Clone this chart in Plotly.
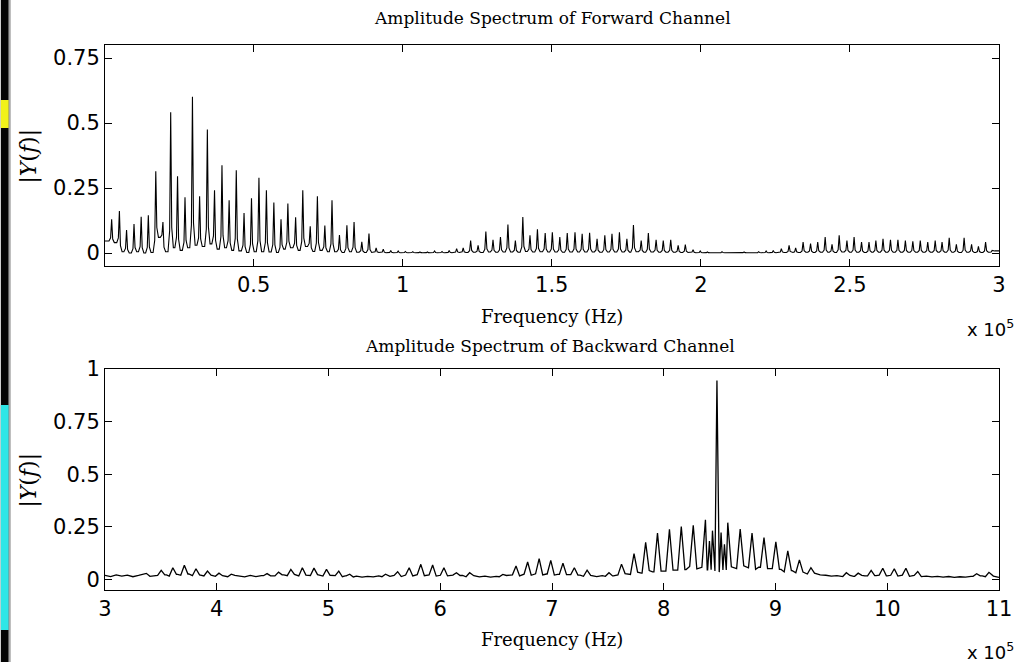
import plotly.graph_objects as go

# ---------------- data (frequency in units of 1e5 Hz) ----------------
fwd_start = 0.046
fwd_freq = [
    0.024, 0.050, 0.074, 0.099, 0.123, 0.147, 0.172, 0.196, 0.222, 0.245,
    0.270, 0.295, 0.319, 0.345, 0.369, 0.394, 0.418, 0.442, 0.468, 0.493,
    0.518, 0.543, 0.568, 0.592, 0.615, 0.641, 0.665, 0.690, 0.714, 0.739,
    0.763, 0.788, 0.813, 0.837, 0.863, 0.887, 0.911, 0.935, 0.960, 0.985,
    1.009, 1.034, 1.058, 1.083, 1.107, 1.132, 1.156, 1.181, 1.203, 1.228,
    1.253, 1.279, 1.303, 1.328, 1.353, 1.378, 1.403, 1.427, 1.452, 1.478,
    1.502, 1.527, 1.552, 1.578, 1.602, 1.627, 1.652, 1.678, 1.702, 1.727,
    1.752, 1.774, 1.800, 1.824, 1.850, 1.874, 1.899, 1.924, 1.948, 1.974,
    1.998, 2.022, 2.047, 2.071, 2.096, 2.120, 2.145, 2.170, 2.194, 2.219,
    2.243, 2.270, 2.296, 2.318, 2.343, 2.368, 2.392, 2.417, 2.440, 2.464,
    2.490, 2.514, 2.539, 2.564, 2.587, 2.611, 2.636, 2.661, 2.686, 2.711,
    2.736, 2.761, 2.786, 2.809, 2.833, 2.857, 2.883, 2.908, 2.931, 2.955,
    2.977,
]
fwd_peak = [
    0.130, 0.161, 0.088, 0.111, 0.139, 0.145, 0.314, 0.119, 0.541, 0.295,
    0.214, 0.601, 0.218, 0.475, 0.241, 0.337, 0.203, 0.318, 0.154, 0.211,
    0.289, 0.241, 0.194, 0.130, 0.190, 0.137, 0.241, 0.103, 0.218, 0.106,
    0.203, 0.069, 0.107, 0.119, 0.043, 0.075, 0.020, 0.015, 0.010, 0.008,
    0.006, 0.005, 0.004, 0.004, 0.008, 0.006, 0.010, 0.017, 0.020, 0.048,
    0.029, 0.083, 0.051, 0.061, 0.110, 0.048, 0.138, 0.068, 0.091, 0.077,
    0.080, 0.061, 0.077, 0.080, 0.074, 0.078, 0.055, 0.068, 0.074, 0.080,
    0.055, 0.108, 0.048, 0.077, 0.051, 0.048, 0.051, 0.029, 0.032, 0.013,
    0.008, 0.004, 0.003, 0.005, 0.003, 0.003, 0.004, 0.003, 0.005, 0.008,
    0.010, 0.017, 0.029, 0.020, 0.042, 0.036, 0.042, 0.061, 0.033, 0.068,
    0.048, 0.061, 0.042, 0.042, 0.048, 0.055, 0.051, 0.051, 0.048, 0.045,
    0.048, 0.042, 0.048, 0.042, 0.058, 0.033, 0.058, 0.033, 0.026, 0.042,
    0.010,
]
fwd_valley = [
    0.040, 0.005, 0.000, 0.005, 0.000, 0.002, 0.060, 0.005, 0.020, 0.010,
    0.020, 0.030, 0.025, 0.035, 0.015, 0.020, 0.010, 0.008, 0.002, 0.005,
    0.005, 0.004, 0.002, 0.015, 0.020, 0.010, 0.025, 0.006, 0.010, 0.005,
    0.005, 0.002, 0.005, 0.003, 0.002, 0.002, 0.002, 0.001, 0.001, 0.001,
    0.001, 0.001, 0.001, 0.001, 0.001, 0.001, 0.001, 0.002, 0.002, 0.003,
    0.002, 0.004, 0.003, 0.004, 0.004, 0.003, 0.006, 0.004, 0.005, 0.004,
    0.004, 0.003, 0.004, 0.004, 0.004, 0.004, 0.003, 0.004, 0.004, 0.004,
    0.003, 0.005, 0.003, 0.004, 0.003, 0.003, 0.003, 0.002, 0.002, 0.001,
    0.001, 0.001, 0.001, 0.001, 0.001, 0.001, 0.001, 0.001, 0.001, 0.001,
    0.001, 0.002, 0.002, 0.002, 0.003, 0.002, 0.003, 0.003, 0.002, 0.004,
    0.003, 0.003, 0.002, 0.003, 0.003, 0.003, 0.003, 0.003, 0.003, 0.003,
    0.003, 0.003, 0.003, 0.003, 0.003, 0.002, 0.003, 0.002, 0.002, 0.003,
    0.008,
]

bwd_peak_freq = [
    3.370, 3.503, 3.607, 3.710, 3.814, 3.917, 4.020, 4.130, 4.450, 4.553,
    4.663, 4.766, 4.870, 4.982, 5.092, 5.190, 5.510, 5.619, 5.722, 5.826,
    5.932, 6.033, 6.145, 6.263, 6.560, 6.678, 6.782, 6.885, 6.989, 7.098,
    7.200, 7.314, 7.510, 7.622, 7.734, 7.838, 7.944, 8.051, 8.157, 8.264,
    8.373, 8.409, 8.436, 8.476, 8.513, 8.543, 8.573, 8.684, 8.790, 8.897,
    9.003, 9.110, 9.214, 9.317, 9.634, 9.740, 9.856, 9.960, 10.063, 10.167,
    10.273, 10.800, 10.910,
]
bwd_peak_val = [
    0.029, 0.043, 0.056, 0.068, 0.051, 0.040, 0.030, 0.025, 0.028, 0.035,
    0.048, 0.056, 0.054, 0.048, 0.040, 0.025, 0.025, 0.037, 0.056, 0.072,
    0.069, 0.056, 0.032, 0.032, 0.024, 0.064, 0.083, 0.099, 0.091, 0.077,
    0.056, 0.044, 0.032, 0.073, 0.123, 0.176, 0.220, 0.238, 0.252, 0.257,
    0.284, 0.183, 0.232, 0.945, 0.223, 0.167, 0.270, 0.239, 0.220, 0.199,
    0.179, 0.136, 0.093, 0.056, 0.032, 0.030, 0.043, 0.053, 0.051, 0.053,
    0.038, 0.027, 0.034,
]
bwd_floor_start = 3.00
bwd_floor_step = 0.05
bwd_floor = [
    0.020, 0.014, 0.022, 0.016, 0.021, 0.013, 0.019, 0.024, 0.015, 0.020,
    0.018, 0.022, 0.016, 0.024, 0.020, 0.026, 0.018, 0.022, 0.017, 0.021, 0.015,
    0.018, 0.013, 0.020, 0.016, 0.012, 0.019, 0.014, 0.018, 0.013, 0.017,
    0.016, 0.022, 0.018, 0.024, 0.017, 0.021, 0.019, 0.023, 0.016, 0.020,
    0.018, 0.013, 0.017, 0.012, 0.016, 0.011, 0.015, 0.012, 0.017, 0.013,
    0.015, 0.019, 0.014, 0.021, 0.017, 0.023, 0.018, 0.022, 0.016, 0.020,
    0.017, 0.021, 0.015, 0.019, 0.013, 0.018, 0.012, 0.016, 0.011, 0.015,
    0.013, 0.019, 0.022, 0.017, 0.025, 0.020, 0.027, 0.022, 0.026, 0.021,
    0.024, 0.019, 0.023, 0.017, 0.021, 0.015, 0.019, 0.014, 0.018, 0.015,
    0.017, 0.022, 0.028, 0.024, 0.035, 0.030, 0.042, 0.036, 0.048, 0.040,
    0.050, 0.044, 0.058, 0.047, 0.062, 0.050, 0.058, 0.046, 0.040, 0.035,
    0.045, 0.060, 0.052, 0.065, 0.055, 0.048, 0.058, 0.046, 0.052, 0.040,
    0.048, 0.036, 0.042, 0.032, 0.035, 0.026, 0.030, 0.022, 0.020, 0.016,
    0.018, 0.014, 0.019, 0.015, 0.020, 0.017, 0.022, 0.018, 0.021, 0.017,
    0.020, 0.016, 0.021, 0.015, 0.019, 0.014, 0.016, 0.012, 0.015, 0.011,
    0.014, 0.010, 0.013, 0.011, 0.015, 0.012, 0.017, 0.013, 0.016, 0.010,
]

fwd_xticks = [0.5, 1, 1.5, 2, 2.5, 3]
fwd_xtick_text = ["0.5", "1", "1.5", "2", "2.5", "3"]
fwd_yticks = [0, 0.25, 0.5, 0.75]
fwd_ytick_text = ["0", "0.25", "0.5", "0.75"]
bwd_xticks = [3, 4, 5, 6, 7, 8, 9, 10, 11]
bwd_xtick_text = ["3", "4", "5", "6", "7", "8", "9", "10", "11"]
bwd_yticks = [0, 0.25, 0.5, 0.75, 1]
bwd_ytick_text = ["0", "0.25", "0.5", "0.75", "1"]

# ---------------- build line vertices ----------------
SPIKE_W = 0.009     # half base width of a forward spike (1e5 Hz)
SPIKE_S = 0.0035    # half width where the spike skirt begins
SKIRT_K = 0.15      # relative height of the skirt
BUMP_W = 0.032      # half base width of a backward bump (1e5 Hz)

fx, fy = [0.0], [fwd_start]
prev = fwd_start
for f, h, v in zip(fwd_freq, fwd_peak, fwd_valley):
    fx += [f - SPIKE_W, f - SPIKE_S, f, f + SPIKE_S, f + SPIKE_W]
    fy += [prev, prev + SKIRT_K * (h - prev), h, v + SKIRT_K * (h - v), v]
    prev = v
fx.append(3.0)
fy.append(prev)

floor_f = [bwd_floor_start + i * bwd_floor_step for i in range(len(bwd_floor))]


def nearest_floor(x):
    i = int(round((x - bwd_floor_start) / bwd_floor_step))
    i = max(0, min(len(bwd_floor) - 1, i))
    return bwd_floor[i]


pts = []
spans = []
n = len(bwd_peak_freq)
for i, (f, h) in enumerate(zip(bwd_peak_freq, bwd_peak_val)):
    hl = BUMP_W if i == 0 else min(BUMP_W, 0.45 * (f - bwd_peak_freq[i - 1]))
    hr = BUMP_W if i == n - 1 else min(BUMP_W, 0.45 * (bwd_peak_freq[i + 1] - f))
    pts += [(f - hl, nearest_floor(f - hl)), (f, h), (f + hr, nearest_floor(f + hr))]
    spans.append((f - hl, f + hr))
for f, v in zip(floor_f, bwd_floor):
    if not any(a - 0.005 <= f <= b + 0.005 for a, b in spans):
        pts.append((f, v))
pts.sort()
bx = [p[0] for p in pts]
by = [p[1] for p in pts]

# ---------------- figure ----------------
W, H = 1024, 662
ML, MR, MT, MB = 105, 18, 45, 72
PW = W - ML - MR
PH = H - MT - MB


def px(x):
    return (x - ML) / PW


def py(y):
    return (H - MB - y) / PH


fig = go.Figure()
fig.add_trace(go.Scatter(x=fx, y=fy, mode="lines", xaxis="x", yaxis="y",
                         line=dict(color="black", width=1.1), hoverinfo="skip"))
fig.add_trace(go.Scatter(x=bx, y=by, mode="lines", xaxis="x2", yaxis="y2",
                         line=dict(color="black", width=1.3), hoverinfo="skip"))

tickfont = dict(family="DejaVu Sans", size=21, color="black")
axis_common = dict(showgrid=False, zeroline=False, showline=True, linecolor="black",
                   linewidth=1, mirror="allticks", ticks="inside", ticklen=7,
                   tickcolor="black", tickfont=tickfont, tickmode="array")

top_dom = [py(266), 1.0]
bot_dom = [0.0, py(369)]

fig.update_layout(
    width=W, height=H,
    margin=dict(l=ML, r=MR, t=MT, b=MB),
    paper_bgcolor="white", plot_bgcolor="white",
    showlegend=False,
    xaxis=dict(axis_common, domain=[0, 1], range=[0.0017, 3.0], anchor="y",
               tickvals=fwd_xticks, ticktext=fwd_xtick_text),
    yaxis=dict(axis_common, domain=top_dom, range=[-0.05, 0.8], anchor="x",
               tickvals=fwd_yticks, ticktext=fwd_ytick_text),
    xaxis2=dict(axis_common, domain=[0, 1], range=[3, 11], anchor="y2",
                tickvals=bwd_xticks, ticktext=bwd_xtick_text),
    yaxis2=dict(axis_common, domain=bot_dom, range=[-0.05, 1.0], anchor="x2",
                tickvals=bwd_yticks, ticktext=bwd_ytick_text),
)

serif = "DejaVu Serif"
ann = [
    dict(text="Amplitude Spectrum of Forward Channel", x=px(556), y=py(18), size=17),
    dict(text="Amplitude Spectrum of Backward Channel", x=px(553), y=py(346), size=17),
    dict(text="Frequency (Hz)", x=px(555), y=py(316), size=18),
    dict(text="Frequency (Hz)", x=px(555), y=py(640), size=18),
]
for a in ann:
    fig.add_annotation(text=a["text"], x=a["x"], y=a["y"], xref="paper", yref="paper",
                       xanchor="center", yanchor="middle", showarrow=False,
                       font=dict(family=serif, size=a["size"], color="black"))

for yy in (328, 651):
    fig.add_annotation(text="x 10<sup>5</sup>", x=px(1023), y=py(yy), xref="paper",
                       yref="paper", xanchor="right", yanchor="middle", showarrow=False,
                       font=dict(family="DejaVu Sans", size=18, color="black"))

for yy in (156, 480):
    fig.add_annotation(text="|<i>Y</i>(<i>f</i>)|", x=px(28), y=py(yy), xref="paper",
                       yref="paper", xanchor="center", yanchor="middle", showarrow=False,
                       textangle=-90, font=dict(family=serif, size=22, color="black"))

# left-edge screen strip
strips = [
    (0, 8, 0, 662, "#050505"),
    (0, 8, 100, 128, "#f2f21a"),
    (0, 8, 405, 630, "#2ee6e6"),
    (8, 10, 0, 662, "#a8a8a8"),
]
for x0, x1, y0, y1, c in strips:
    fig.add_shape(type="rect", xref="paper", yref="paper", x0=px(x0), x1=px(x1),
                  y0=py(y1), y1=py(y0), fillcolor=c, line=dict(width=0), layer="above")

fig.write_html(
    "out.html",
    config={"displayModeBar": False},
    post_script="document.body.style.margin='0px';document.body.style.overflow='hidden';",
)
